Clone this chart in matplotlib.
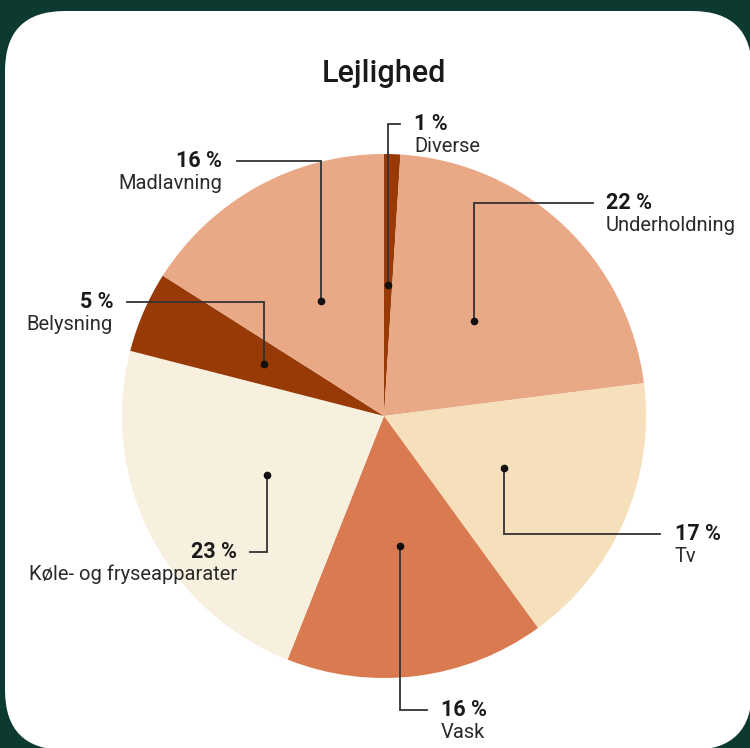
import numpy as np
import matplotlib
matplotlib.use("Agg")
import matplotlib.pyplot as plt
from matplotlib.patches import FancyBboxPatch

plt.rcParams['font.family'] = ['Roboto', 'DejaVu Sans']

title = "Lejlighed"
categories = ["Diverse", "Underholdning", "Tv", "Vask",
              "Køle- og fryseapparater", "Belysning", "Madlavning"]
values = [1, 22, 17, 16, 23, 5, 16]
pct_labels = ["1 %", "22 %", "17 %", "16 %", "23 %", "5 %", "16 %"]
colors = ["#983a05", "#e9a987", "#f5e0bb", "#d97a50", "#f7f0df", "#983a05", "#e9a987"]

# layout (pixel coordinates, image y downward)
W, H = 750, 748
cx, cy, R = 384, 416, 262
elbow_y = [124, 203, 534, 710, 552, 302, 161]
line_end_x = [400, 593, 660, 427, 250, 127, 237]
text_x = [414, 606, 675, 441, 237, 113, 222]
text_ha = ["left", "left", "left", "left", "right", "right", "right"]

fig = plt.figure(figsize=(W / 100, H / 100), dpi=100)
fig.patch.set_facecolor("#0d3a30")
ax = fig.add_axes([0, 0, 1, 1])
ax.set_xlim(0, W)
ax.set_ylim(0, H)
ax.set_aspect("equal")
ax.axis("off")

def Y(y):
    return H - y

panel = FancyBboxPatch((5, Y(750)), 747, 739, boxstyle="round,pad=0,rounding_size=60",
                       facecolor="white", edgecolor="none", zorder=0)
ax.add_patch(panel)

wedges, _ = ax.pie(values, colors=colors, startangle=90, counterclock=False,
                   center=(cx, Y(cy)), radius=R, frame=True,
                   wedgeprops=dict(linewidth=0), normalize=True)
ax.set_xlim(0, W)
ax.set_ylim(0, H)
ax.axis("off")

ax.text(cx, Y(73), title, ha="center", va="center", fontsize=22,
        fontweight="medium", color="#1a1a1a")

line_col = "#333333"
for i, w in enumerate(wedges):
    ang = np.deg2rad((w.theta1 + w.theta2) / 2)
    dx = cx + 0.5 * R * np.cos(ang)
    dy = Y(cy) + 0.5 * R * np.sin(ang)
    ey = Y(elbow_y[i])
    ax.plot([dx, dx, line_end_x[i]], [dy, ey, ey], color=line_col, lw=1.3,
            solid_joinstyle="miter", zorder=3)
    ax.plot(dx, dy, "o", color="#111111", ms=4.5, zorder=4)
    ax.text(text_x[i], ey, pct_labels[i], ha=text_ha[i], va="center",
            fontsize=15.5, fontweight="bold", color="#1a1a1a")
    ax.text(text_x[i], ey - 22, categories[i], ha=text_ha[i], va="center",
            fontsize=14.5, color="#2a2a2a")

fig.savefig("out.png", dpi=100, facecolor=fig.get_facecolor())
